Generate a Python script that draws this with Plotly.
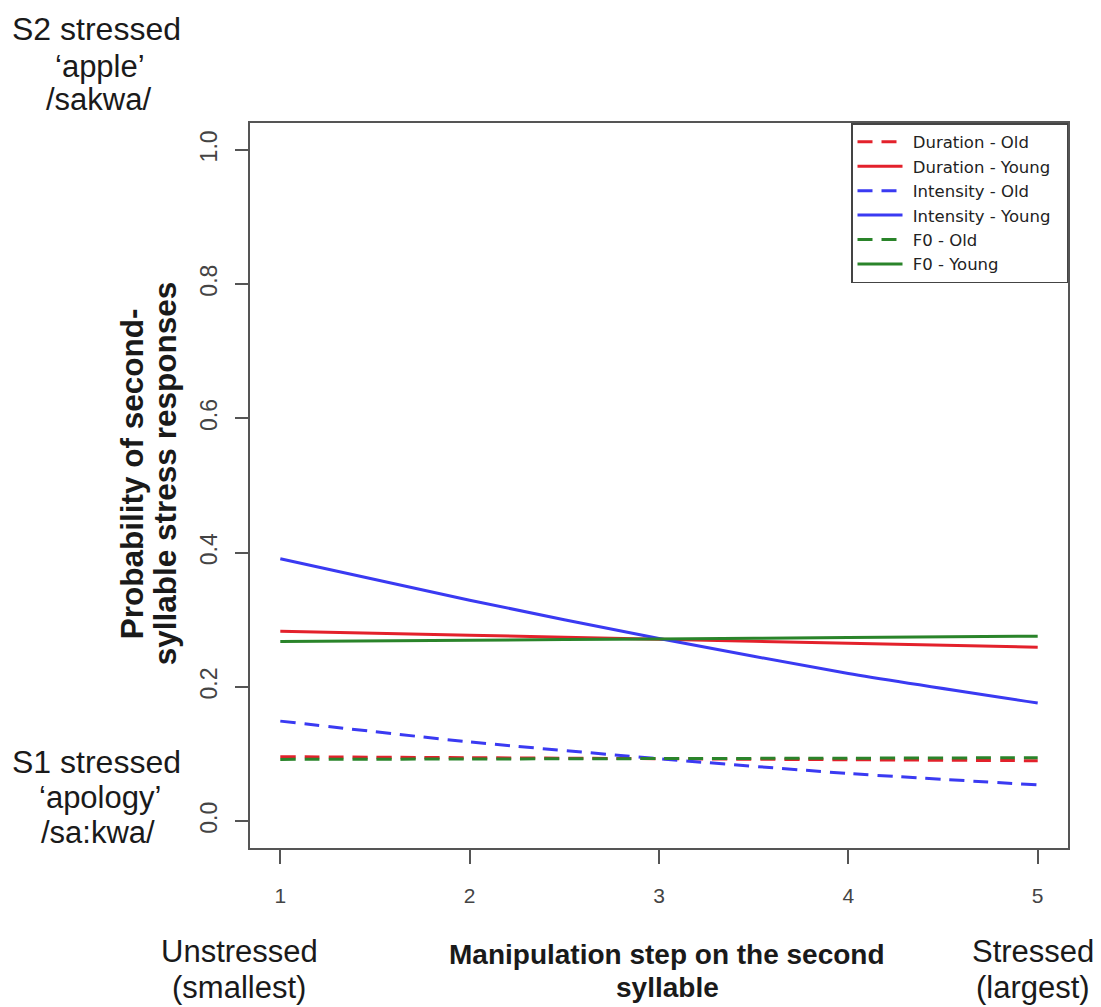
import plotly.graph_objects as go

# ---- data ----
steps = [1, 2, 3, 4, 5]
tick_labels_x = ["1", "2", "3", "4", "5"]
y_ticks = [0.0, 0.2, 0.4, 0.6, 0.8, 1.0]

duration_old = [0.096, 0.0945, 0.093, 0.0915, 0.090]
duration_young = [0.283, 0.277, 0.271, 0.265, 0.259]
intensity_old = [0.149, 0.118, 0.093, 0.071, 0.054]
intensity_young = [0.391, 0.329, 0.272, 0.220, 0.176]
f0_old = [0.092, 0.0926, 0.0932, 0.0938, 0.0945]
f0_young = [0.2675, 0.2695, 0.2715, 0.2735, 0.2755]

series_names = ["Duration - Old", "Duration - Young", "Intensity - Old",
                "Intensity - Young", "F0 - Old", "F0 - Young"]
series_values = [duration_old, duration_young, intensity_old,
                 intensity_young, f0_old, f0_young]

RED = "#e3212b"
BLUE = "#3a3af2"
GREEN = "#2a842a"
series_colors = [RED, RED, BLUE, BLUE, GREEN, GREEN]
series_dash = ["15px,9px", "solid", "15px,9px", "solid", "15px,9px", "solid"]

# page offset of the plot div (browser body margin)
OFF = 8
W, H = 1101 - OFF, 1007 - OFF
# plot box in reference-page pixels
L, R, T, B = 250, 1068, 122.5, 848

NB = "\u00a0"

fig = go.Figure()
for name, vals, col, dash in zip(series_names, series_values, series_colors, series_dash):
    fig.add_trace(go.Scatter(
        x=steps, y=vals, mode="lines", name=NB + name + NB * 2,
        line=dict(color=col, width=3, dash=dash, shape="spline", smoothing=0.6),
    ))

FONT = "Liberation Sans, Arial, sans-serif"

def px_to_paper(x, y):
    return (x - L) / (R - L), (B - y) / (B - T)

annos = []
def add_text(text, x, y, size=31, bold=False, color="#1a1a1a", angle=0):
    px, py = px_to_paper(x, y)
    annos.append(dict(
        text=text, x=px, y=py, xref="paper", yref="paper",
        xanchor="center", yanchor="middle", showarrow=False, textangle=angle,
        font=dict(family=FONT, size=size, color=color,
                  weight="bold" if bold else "normal"),
    ))

add_text("S2 stressed", 96, 28, size=32)
add_text("\u2018apple\u2019", 100, 66)
add_text("/sakwa/", 98, 99)
add_text("S1 stressed", 96, 762, size=32)
add_text("\u2018apology\u2019", 100, 797)
add_text("/sa:kwa/", 98, 832)
add_text("Unstressed", 239, 952)
add_text("(smallest)", 239, 988)
add_text("Stressed", 1033, 952)
add_text("(largest)", 1033, 988)
add_text("Manipulation step on the second", 667, 955, size=28, bold=True)
add_text("syllable", 667, 988, size=28, bold=True)
add_text("Probability of second-", 132, 474, size=31.5, bold=True, angle=-90)
add_text("syllable stress responses", 165, 474, size=31.5, bold=True, angle=-90)

fig.update_layout(
    width=W, height=H,
    margin=dict(l=L - OFF, r=1101 - R, t=T - OFF, b=1007 - B),
    paper_bgcolor="white", plot_bgcolor="white",
    showlegend=True,
    legend=dict(
        x=1, y=1, xanchor="right", yanchor="top",
        bgcolor="white", bordercolor="#444", borderwidth=1.5,
        font=dict(family="DejaVu Sans, sans-serif", size=16.5, color="#222"),
        traceorder="normal", itemwidth=45,
    ),
    annotations=annos,
    xaxis=dict(
        range=[0.84, 5.16], tickmode="array", tickvals=steps, ticktext=tick_labels_x,
        showgrid=False, zeroline=False, showline=True, mirror=True,
        linecolor="#555", linewidth=2, ticks="outside", ticklen=14, tickwidth=1.5,
        tickcolor="#555", tickfont=dict(family=FONT, size=21, color="#444"),
        ticklabelstandoff=14,
    ),
    yaxis=dict(
        range=[-0.04, 1.04], tickmode="array", tickvals=y_ticks,
        ticktext=[f"{v:.1f}" for v in y_ticks], tickangle=-90,
        showgrid=False, zeroline=False, showline=True, mirror=True,
        linecolor="#555", linewidth=2, ticks="outside", ticklen=13, tickwidth=1.5,
        tickcolor="#555", tickfont=dict(family=FONT, size=23, color="#444"),
        ticklabelstandoff=9,
    ),
)

fig.write_html("out.html")
